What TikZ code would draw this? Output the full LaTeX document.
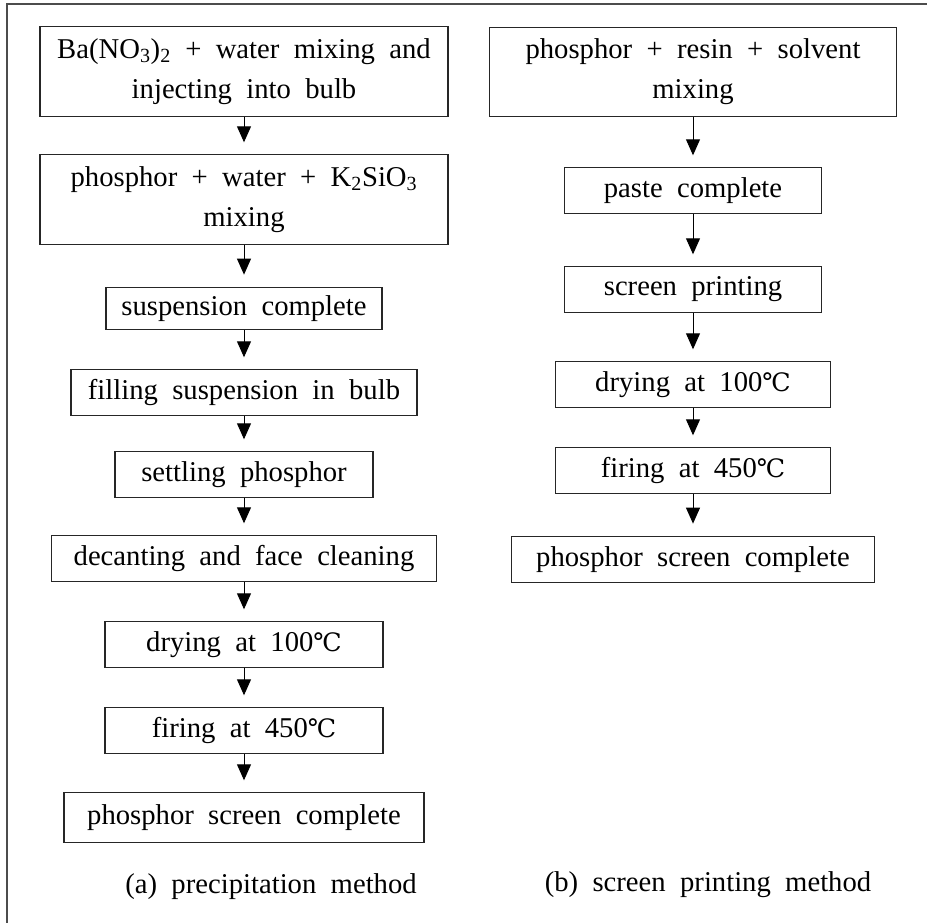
\documentclass[tikz,border=0pt]{standalone}
\usepackage{fontspec}
\setmainfont[WordSpace=2.0]{Liberation Serif}
\newfontfamily\degfont{DejaVu Serif}
\usepackage{tikz}
\usetikzlibrary{positioning,arrows.meta}
\newcommand{\degC}{{\degfont\fontsize{19}{30}\selectfont ℃}}
\tikzset{
  box/.style={draw=black!85,line width=0.8pt,inner sep=0pt,align=center,
    font=\fontsize{21.5}{30}\selectfont,minimum height=34pt},
  tallbox/.style={box,minimum height=67pt},
  arr/.style={line width=0.75pt,-{Triangle[length=12pt,width=10.5pt]},shorten >=9pt},
  captxt/.style={font=\fontsize{21.5}{26}\selectfont}
}
\begin{document}
\begin{tikzpicture}[x=0.75pt,y=-0.75pt]
            \useasboundingbox (0,0) rectangle (927,923);
            \draw [line width=0.8pt,black!70](927,4) -- (7,4) -- (7,923);
            % (a) precipitation method
            \node [tallbox,minimum width=306pt] (a1) at (244,71.5) {Ba(NO\textsubscript{3})\textsubscript{2} + water mixing and\\injecting into bulb};
            \node [tallbox,minimum width=306pt] (a2) at (244,199.5) {phosphor + water + K\textsubscript{2}SiO\textsubscript{3}\\mixing};
            \node [box,minimum width=207pt,minimum height=32pt] (a3) at (244,308.5) {suspension complete};
            \node [box,minimum width=259.5pt] (a4) at (244,392.5) {filling suspension in bulb};
            \node [box,minimum width=193.5pt] (a5) at (244,474.5) {settling phosphor};
            \node [box,minimum width=289pt] (a6) at (244,558.5) {decanting and face cleaning};
            \node [box,minimum width=208.5pt] (a7) at (244,644.5) {drying at 100\degC};
            \node [box,minimum width=208.5pt] (a8) at (244,730.5) {firing at 450\degC};
            \node [box,minimum width=270pt,minimum height=37pt] (a9) at (244,817.5) {phosphor screen complete};
            % (b) screen printing method
            \node [tallbox,minimum width=305pt] (b1) at (693,72) {phosphor + resin + solvent\\mixing};
            \node [box,minimum width=193pt] (b2) at (693,190.5) {paste complete};
            \node [box,minimum width=193pt] (b3) at (693,289.5) {screen printing};
            \node [box,minimum width=206pt] (b4) at (693,384.5) {drying at 100\degC};
            \node [box,minimum width=206pt] (b5) at (693,470.5) {firing at 450\degC};
            \node [box,minimum width=272pt,minimum height=35pt] (b6) at (693,559.5) {phosphor screen complete};
            \foreach \s/\t in {a1/a2,a2/a3,a3/a4,a4/a5,a5/a6,a6/a7,a7/a8,a8/a9,b1/b2,b2/b3,b3/b4,b4/b5,b5/b6}
                \draw [arr] (\s) -- (\t);
            \node [captxt] (capa) at (271,887) {(a) precipitation method};
            \node [captxt] (capb) at (708,885) {(b) screen printing method};
        \end{tikzpicture}
\end{document}
